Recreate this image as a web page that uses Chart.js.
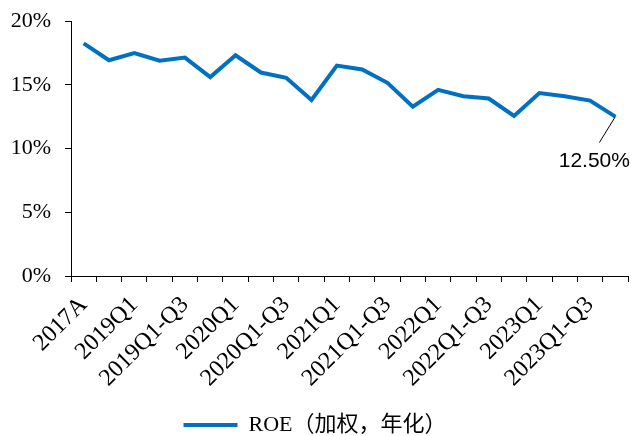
<!DOCTYPE html>
<html>
<head>
<meta charset="utf-8">
<script src="https://cdn.jsdelivr.net/npm/chart.js@4/dist/chart.umd.min.js"></script>
<style>
  html, body { margin: 0; padding: 0; background: #fff; }
  #wrap { width: 636px; height: 436px; }
</style>
</head>
<body>
<div id="wrap"><canvas id="roeChart" width="636" height="436"></canvas></div>
<script>
// Periods on the x axis (every other one is labelled)
const periods = [
    "2017A", "2018A", "2019Q1", "2019H1", "2019Q1-Q3", "2019A",
    "2020Q1", "2020H1", "2020Q1-Q3", "2020A",
    "2021Q1", "2021H1", "2021Q1-Q3", "2021A",
    "2022Q1", "2022H1", "2022Q1-Q3", "2022A",
    "2023Q1", "2023H1", "2023Q1-Q3", "2023A"
];

// ROE (weighted, annualised), percent
const roeValues = [
    18.24, 16.92, 17.48, 16.88, 17.13, 15.60,
    17.31, 15.96, 15.55, 13.80,
    16.50, 16.20, 15.15, 13.28,
    14.60, 14.10, 13.92, 12.55,
    14.35, 14.10, 13.76, 12.50
];

const yTicks = [0, 5, 10, 15, 20];
const seriesLabel = "ROE（加权，年化）";
const calloutText = "12.50%";

const blue = "#0070C0";
const serif = "'Liberation Serif', 'Times New Roman', 'Noto Sans CJK SC', serif";

// draws the leader line and value label for the last point
const calloutPlugin = {
    id: "callout",
    afterDatasetsDraw(chart) {
        const meta = chart.getDatasetMeta(0);
        const last = meta.data[meta.data.length - 1];
        const ctx = chart.ctx;
        ctx.save();
        ctx.strokeStyle = "#000";
        ctx.lineWidth = 1;
        ctx.beginPath();
        ctx.moveTo(last.x, last.y);
        ctx.lineTo(last.x - 16, last.y + 26);
        ctx.stroke();
        ctx.fillStyle = "#000";
        ctx.font = "21px 'Liberation Sans', 'Open Sans', sans-serif";
        ctx.textAlign = "center";
        ctx.textBaseline = "middle";
        ctx.fillText(calloutText, last.x - 21, last.y + 45);
        ctx.restore();
    }
};

const ctx = document.getElementById("roeChart").getContext("2d");
const roeChart = new Chart(ctx, {
    type: "line",
    data: {
        labels: periods,
        datasets: [{
            label: seriesLabel,
            data: roeValues,
            borderColor: blue,
            backgroundColor: blue,
            borderWidth: 4,
            pointRadius: 0,
            pointStyle: "line",
            tension: 0
        }]
    },
    options: {
        responsive: false,
        animation: false,
        layout: {
            padding: { left: 2, right: 8, top: 21, bottom: -10 }
        },
        scales: {
            x: {
                offset: true,
                afterFit: function (axis) {
                    axis.height = 134;
                    axis.paddingLeft = 0;
                    axis.paddingRight = 0;
                },
                grid: {
                    offset: true,
                    drawOnChartArea: false,
                    drawTicks: true,
                    tickLength: 6,
                    color: "#000",
                    lineWidth: 1
                },
                border: { color: "#000", width: 1 },
                ticks: {
                    autoSkip: false,
                    minRotation: 45,
                    maxRotation: 45,
                    padding: 9,
                    color: "#000",
                    font: { family: serif, size: 24 },
                    callback: function (value, index) {
                        return index % 2 === 0 ? periods[index] : "";
                    }
                }
            },
            y: {
                min: 0,
                max: 20,
                afterBuildTicks: function (axis) {
                    axis.ticks = yTicks.map(v => ({ value: v }));
                },
                afterFit: function (axis) {
                    axis.width = 69;
                    axis.paddingTop = 0;
                    axis.paddingBottom = 0;
                },
                grid: {
                    drawOnChartArea: false,
                    drawTicks: true,
                    tickLength: 6,
                    color: "#000"
                },
                border: { color: "#000", width: 1 },
                ticks: {
                    padding: 14,
                    color: "#000",
                    font: { family: serif, size: 22 },
                    callback: v => v + "%"
                }
            }
        },
        plugins: {
            legend: {
                position: "bottom",
                labels: {
                    usePointStyle: true,
                    pointStyleWidth: 54,
                    boxHeight: 4,
                    color: "#000",
                    padding: 4,
                    font: { family: serif, size: 22 }
                }
            },
            tooltip: { enabled: false }
        }
    },
    plugins: [calloutPlugin]
});
</script>
</body>
</html>
